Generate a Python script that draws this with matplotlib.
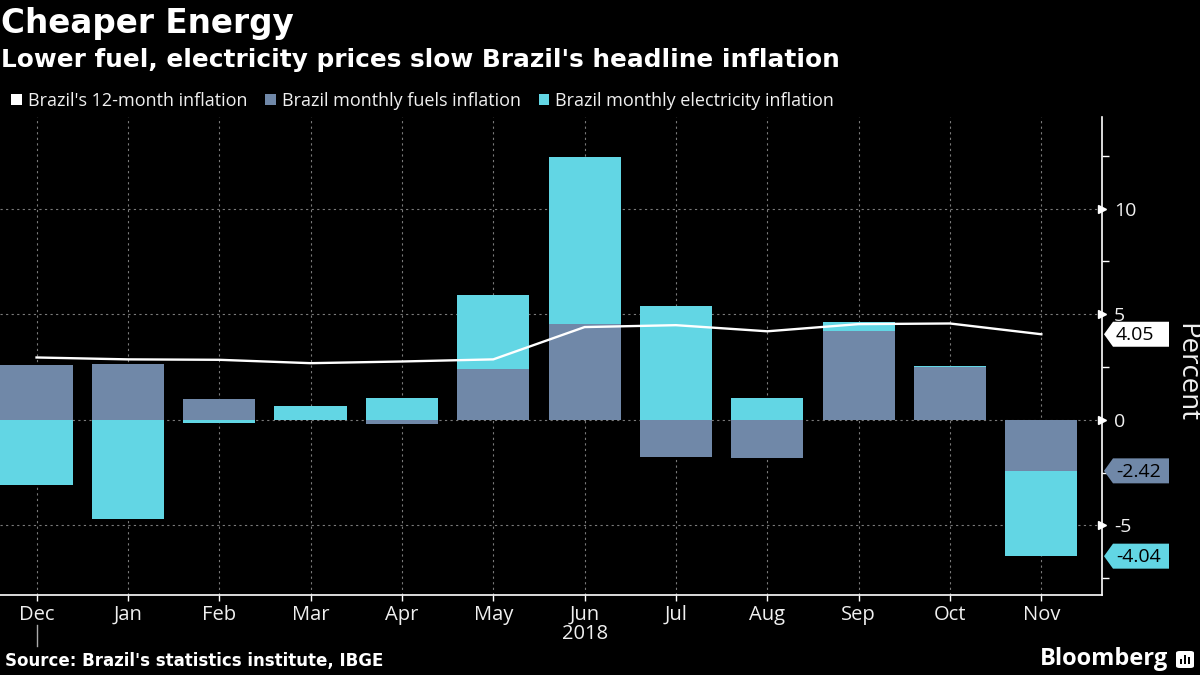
import matplotlib
matplotlib.use("Agg")
import matplotlib.pyplot as plt
import matplotlib.transforms as mtransforms
from matplotlib.patches import Patch, Polygon, FancyBboxPatch, Rectangle
from matplotlib.lines import Line2D

# data
months = ["Dec", "Jan", "Feb", "Mar", "Apr", "May", "Jun", "Jul", "Aug", "Sep", "Oct", "Nov"]
inflation_12m = [2.95, 2.86, 2.84, 2.68, 2.76, 2.86, 4.39, 4.48, 4.19, 4.53, 4.56, 4.05]
fuels = [2.58, 2.62, 1.00, 0.0, -0.21, 2.40, 4.52, -1.77, -1.82, 4.19, 2.48, -2.42]
electricity = [-3.07, -4.72, -0.16, 0.66, 1.01, 3.50, 7.91, 5.38, 1.01, 0.46, 0.08, -4.04]
y_ticks = [-5, 0, 5, 10]

BG = "#000000"
FUEL = "#7088a8"
ELEC = "#62d6e4"
LINE = "#ffffff"
GRID = "#7a7a7a"
TXT = "#f0f0f0"
REG = ["Open Sans", "DejaVu Sans"]
BOLD = ["DejaVu Sans"]

fig = plt.figure(figsize=(12, 6.75), dpi=100, facecolor=BG)
ax = fig.add_axes([0.0, 0.1185, 0.918, 0.7085], facecolor=BG)

x = list(range(len(months)))

# stacked bars: positives stack up from zero, negatives stack down
fuel_base = [0.0] * len(x)
elec_base = []
for f, e in zip(fuels, electricity):
    if (f >= 0 and e >= 0) or (f < 0 and e < 0):
        elec_base.append(f)
    else:
        elec_base.append(0.0)

ax.bar(x, fuels, bottom=fuel_base, width=0.79, color=FUEL, zorder=2, linewidth=0)
ax.bar(x, electricity, bottom=elec_base, width=0.79, color=ELEC, zorder=2, linewidth=0)
ax.plot(x, inflation_12m, color=LINE, linewidth=1.7, zorder=4)

ax.set_xlim(-0.40, 11.66)
ax.set_ylim(-8.3, 14.35)

for s in ["left", "top"]:
    ax.spines[s].set_visible(False)
for s in ["right", "bottom"]:
    ax.spines[s].set_color("#ffffff")
    ax.spines[s].set_linewidth(1.2)

# grid
for v in y_ticks:
    ax.axhline(v, color=GRID, linestyle=(0, (2, 3)), linewidth=0.8, zorder=1)
for xi in x:
    ax.axvline(xi, color=GRID, linestyle=(0, (2, 3)), linewidth=0.8, zorder=1)

# y axis on the right
ax.yaxis.tick_right()
ax.set_yticks(y_ticks)
ax.set_yticklabels([str(v) for v in y_ticks], fontsize=14, color=TXT, family=REG)
ax.set_yticks([-7.5, -2.5, 2.5, 7.5, 12.5], minor=True)
ax.tick_params(axis="y", which="major", length=0, pad=9)
ax.tick_params(axis="y", which="minor", length=5, width=1, color="#ffffff", direction="out")
yt = mtransforms.blended_transform_factory(ax.transAxes, ax.transData)
for v in y_ticks:
    ax.plot([1.0], [v], marker=">", markersize=6, color="#ffffff", transform=yt,
            clip_on=False, zorder=5)
ax.text(1.064, 2.25, "Percent", transform=yt, rotation=-90, fontsize=20, color=TXT,
        family=REG, ha="left", va="center")

# x axis
ax.set_xticks(x)
ax.set_xticklabels(months, fontsize=14.5, color=TXT, family=REG)
ax.tick_params(axis="x", length=4, width=1, color="#ffffff", pad=3)
xt = mtransforms.blended_transform_factory(ax.transData, fig.transFigure)
ax.text(6, 1 - 634 / 675, "2018", transform=xt, fontsize=14.5, color=TXT, family=REG,
        ha="center", va="center")
fig.add_artist(Line2D([0, 0], [1 - 625 / 675, 1 - 646 / 675], transform=xt,
                      color="#aaaaaa", linewidth=1))

# value tags on the right
fig.canvas.draw()
def tag(value, text, face, tcolor):
    yp = ax.transData.transform((0, value))[1] / 675
    x0 = 1104 / 1200
    x1 = 1113 / 1200
    x2 = 1169 / 1200
    h = 12.5 / 675
    poly = Polygon([(x0, yp), (x1, yp + h), (x2, yp + h), (x2, yp - h), (x1, yp - h)],
                   closed=True, transform=fig.transFigure, facecolor=face,
                   edgecolor="none", zorder=6)
    fig.add_artist(poly)
    fig.text(1116 / 1200, yp - 1 / 675, text, fontsize=14, color=tcolor, family=REG,
             ha="left", va="center", zorder=7)

tag(inflation_12m[-1], f"{inflation_12m[-1]:.2f}", "#ffffff", "#000000")
tag(fuels[-1], f"{fuels[-1]:.2f}", FUEL, "#000000")
tag(fuels[-1] + electricity[-1], f"{electricity[-1]:.2f}", ELEC, "#000000")

# titles
fig.text(0.001, 1 - 23 / 675, "Cheaper Energy", fontsize=23.5, fontweight="bold",
         color="#ffffff", family=BOLD, va="center", ha="left")
fig.text(0.001, 1 - 60 / 675, "Lower fuel, electricity prices slow Brazil's headline inflation",
         fontsize=17.8, fontweight="bold", color="#ffffff", family=BOLD, va="center", ha="left")

handles = [Patch(facecolor=LINE), Patch(facecolor=FUEL), Patch(facecolor=ELEC)]
labels = ["Brazil's 12-month inflation", "Brazil monthly fuels inflation",
          "Brazil monthly electricity inflation"]
leg = fig.legend(handles, labels, loc="center left", bbox_to_anchor=(-0.004, 1 - 101 / 675),
                 ncol=3, frameon=False, handlelength=0.6, handleheight=0.6,
                 handletextpad=0.3, columnspacing=1.0, prop={"family": REG, "size": 13})
for t in leg.get_texts():
    t.set_color(TXT)

# footer
fig.text(0.004, 1 - 661 / 675, "Source: Brazil's statistics institute, IBGE", fontsize=12,
         fontweight="bold", color="#ffffff", family=BOLD, va="center", ha="left")
fig.text(1168 / 1200, 1 - 659 / 675, "Bloomberg", fontsize=17, fontweight="bold",
         color="#ffffff", family=REG, va="center", ha="right")
fig.add_artist(FancyBboxPatch((1176 / 1200, 1 - 668 / 675), 18 / 1200, 17 / 675,
                              boxstyle="round,pad=0,rounding_size=0.003",
                              transform=fig.transFigure, facecolor="#ffffff",
                              edgecolor="none"))
for i, hgt in enumerate([5, 9, 7]):
    fig.add_artist(Rectangle(((1180 + i * 4) / 1200, 1 - 664 / 675), 2 / 1200, hgt / 675,
                             transform=fig.transFigure, facecolor="#000000",
                             edgecolor="none"))

fig.savefig("out.png", dpi=100, facecolor=BG)
